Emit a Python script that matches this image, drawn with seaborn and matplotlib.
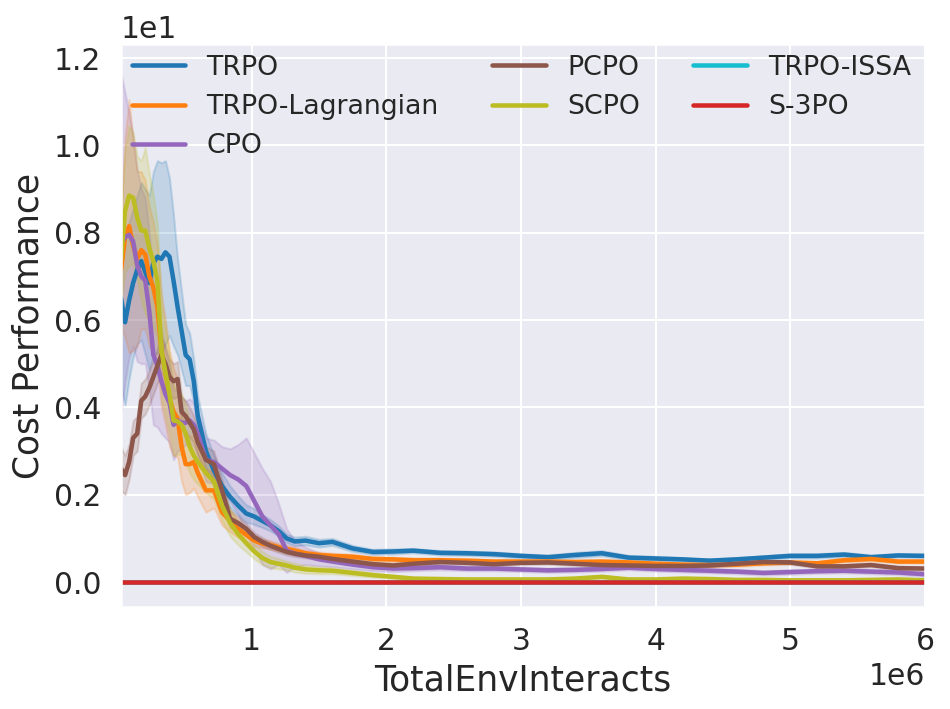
import numpy as np
import pandas as pd
import matplotlib
matplotlib.use("Agg")
import matplotlib.pyplot as plt
import seaborn as sns

# x grid in millions of env steps
steps_m = [0.03, 0.06, 0.09, 0.12, 0.15, 0.18, 0.21, 0.24, 0.27, 0.30,
           0.33, 0.36, 0.39, 0.42, 0.45, 0.48, 0.51, 0.54, 0.57, 0.60,
           0.66, 0.72, 0.78, 0.84, 0.90, 0.96, 1.02, 1.08, 1.14, 1.20,
           1.26, 1.32, 1.40, 1.50, 1.60, 1.75, 1.90, 2.05, 2.20, 2.40,
           2.60, 2.80, 3.00, 3.20, 3.40, 3.60, 3.80, 4.00, 4.20, 4.40,
           4.60, 4.80, 5.00, 5.20, 5.40, 5.60, 5.80, 6.00]

trpo_mean = [6.50, 5.95, 6.45, 6.85, 7.15, 7.35, 7.10, 6.85, 7.30, 7.45,
             7.40, 7.55, 7.45, 6.90, 6.30, 5.75, 5.20, 5.10, 4.60, 3.80,
             3.00, 2.55, 2.20, 1.95, 1.75, 1.57, 1.50, 1.40, 1.30, 1.17,
             1.00, 0.93, 0.95, 0.89, 0.92, 0.77, 0.69, 0.70, 0.72, 0.67,
             0.66, 0.64, 0.60, 0.57, 0.62, 0.66, 0.56, 0.54, 0.52, 0.49,
             0.52, 0.56, 0.60, 0.60, 0.63, 0.57, 0.61, 0.60]
trpo_sd = [2.0, 1.9, 1.8, 1.7, 1.7, 1.8, 1.9, 2.0, 2.1, 2.2,
           2.2, 2.1, 1.8, 1.5, 1.1, 0.9, 0.7, 0.6, 0.5, 0.45,
           0.4, 0.35, 0.3, 0.25, 0.22, 0.2, 0.18, 0.15, 0.13, 0.12,
           0.1, 0.1, 0.1, 0.09, 0.08, 0.07, 0.06, 0.06, 0.05, 0.05,
           0.05, 0.05, 0.05, 0.05, 0.06, 0.06, 0.05, 0.05, 0.04, 0.04,
           0.04, 0.04, 0.05, 0.05, 0.05, 0.05, 0.04, 0.04]

lag_mean = [7.15, 7.90, 8.15, 7.70, 7.40, 7.60, 7.50, 7.00, 6.75, 6.30,
            5.30, 4.80, 4.20, 3.90, 3.75, 3.10, 2.70, 2.70, 2.75, 2.50,
            2.10, 2.10, 1.60, 1.40, 1.22, 1.08, 0.95, 0.88, 0.85, 0.80,
            0.76, 0.72, 0.66, 0.62, 0.60, 0.58, 0.53, 0.52, 0.50, 0.50,
            0.49, 0.47, 0.47, 0.47, 0.46, 0.47, 0.45, 0.42, 0.40, 0.39,
            0.40, 0.43, 0.45, 0.43, 0.50, 0.53, 0.47, 0.47]
lag_sd = [1.3, 2.3, 2.9, 2.4, 2.0, 1.8, 1.7, 1.6, 1.5, 1.4,
          1.3, 1.2, 1.1, 1.0, 0.9, 0.8, 0.7, 0.65, 0.6, 0.55,
          0.5, 0.4, 0.3, 0.25, 0.2, 0.15, 0.12, 0.1, 0.1, 0.09,
          0.08, 0.08, 0.07, 0.07, 0.06, 0.06, 0.05, 0.05, 0.05, 0.05,
          0.04, 0.04, 0.04, 0.04, 0.04, 0.04, 0.04, 0.04, 0.04, 0.04,
          0.04, 0.04, 0.04, 0.04, 0.05, 0.05, 0.04, 0.04]

cpo_mean = [7.75, 7.90, 7.95, 7.80, 7.25, 7.00, 6.90, 6.20, 5.20, 4.95,
            4.60, 4.30, 4.10, 3.60, 3.70, 3.65, 3.65, 3.70, 3.60, 3.40,
            2.80, 2.75, 2.60, 2.45, 2.35, 2.20, 1.85, 1.50, 1.30, 1.10,
            0.72, 0.65, 0.60, 0.52, 0.47, 0.40, 0.34, 0.31, 0.32, 0.34,
            0.31, 0.31, 0.29, 0.27, 0.28, 0.30, 0.33, 0.30, 0.28, 0.26,
            0.24, 0.21, 0.23, 0.25, 0.26, 0.24, 0.22, 0.18]
cpo_sd = [3.9, 3.3, 2.8, 2.4, 2.2, 2.0, 1.9, 1.8, 1.6, 1.4,
          1.2, 1.0, 0.9, 0.8, 0.7, 0.6, 0.5, 0.5, 0.5, 0.5,
          0.5, 0.5, 0.5, 0.6, 0.8, 1.1, 1.1, 1.1, 1.0, 0.7,
          0.5, 0.3, 0.2, 0.15, 0.12, 0.1, 0.08, 0.07, 0.06, 0.06,
          0.05, 0.05, 0.05, 0.05, 0.05, 0.05, 0.05, 0.05, 0.05, 0.05,
          0.05, 0.05, 0.05, 0.05, 0.05, 0.05, 0.05, 0.05]

pcpo_mean = [2.60, 2.45, 2.75, 3.30, 3.40, 4.15, 4.25, 4.45, 4.70, 4.95,
             5.20, 5.00, 4.70, 4.60, 4.65, 3.90, 3.80, 3.65, 3.50, 3.20,
             2.80, 2.70, 2.10, 1.45, 1.35, 1.22, 1.03, 0.92, 0.83, 0.76,
             0.69, 0.65, 0.61, 0.58, 0.53, 0.47, 0.41, 0.38, 0.42, 0.46,
             0.44, 0.41, 0.44, 0.45, 0.42, 0.39, 0.38, 0.37, 0.37, 0.38,
             0.42, 0.46, 0.45, 0.36, 0.36, 0.39, 0.32, 0.31]
pcpo_sd = [0.5, 0.45, 0.4, 0.4, 0.4, 0.4, 0.4, 0.4, 0.4, 0.4,
           0.4, 0.4, 0.4, 0.4, 0.4, 0.35, 0.35, 0.35, 0.3, 0.3,
           0.3, 0.3, 0.25, 0.2, 0.15, 0.12, 0.1, 0.1, 0.08, 0.08,
           0.07, 0.07, 0.06, 0.06, 0.05, 0.05, 0.05, 0.05, 0.05, 0.05,
           0.04, 0.04, 0.04, 0.04, 0.04, 0.04, 0.04, 0.04, 0.04, 0.04,
           0.04, 0.04, 0.04, 0.04, 0.04, 0.04, 0.04, 0.04]

scpo_mean = [7.40, 8.50, 8.85, 8.80, 8.35, 8.05, 8.05, 7.65, 7.35, 6.90,
             5.30, 4.80, 4.30, 3.70, 3.68, 3.60, 3.40, 3.10, 2.90, 2.75,
             2.50, 2.30, 1.75, 1.35, 1.10, 0.89, 0.70, 0.55, 0.46, 0.42,
             0.38, 0.33, 0.29, 0.27, 0.26, 0.21, 0.16, 0.12, 0.08, 0.07,
             0.06, 0.06, 0.06, 0.06, 0.08, 0.12, 0.06, 0.06, 0.08, 0.07,
             0.05, 0.05, 0.04, 0.04, 0.04, 0.05, 0.06, 0.04]
scpo_sd = [1.0, 1.4, 1.6, 1.5, 1.4, 1.6, 1.9, 1.7, 1.5, 1.3,
           1.1, 1.0, 0.9, 0.8, 0.75, 0.7, 0.65, 0.6, 0.55, 0.5,
           0.45, 0.4, 0.35, 0.3, 0.25, 0.2, 0.17, 0.15, 0.13, 0.12,
           0.1, 0.1, 0.09, 0.08, 0.07, 0.06, 0.05, 0.04, 0.03, 0.03,
           0.03, 0.03, 0.03, 0.03, 0.03, 0.03, 0.03, 0.03, 0.03, 0.03,
           0.03, 0.03, 0.03, 0.03, 0.03, 0.03, 0.03, 0.03]

issa_mean = [0.0, 0.0, 0.0, 0.0, 0.0, 0.0, 0.0, 0.0, 0.0, 0.0,
             0.0, 0.0, 0.0, 0.0, 0.0, 0.0, 0.0, 0.0, 0.0, 0.0,
             0.0, 0.0, 0.0, 0.0, 0.0, 0.0, 0.0, 0.0, 0.0, 0.0,
             0.0, 0.0, 0.0, 0.0, 0.0, 0.0, 0.0, 0.0, 0.0, 0.0,
             0.0, 0.0, 0.0, 0.0, 0.0, 0.0, 0.0, 0.0, 0.0, 0.0,
             0.0, 0.0, 0.0, 0.0, 0.0, 0.0, 0.0, 0.0]
s3po_mean = [0.0, 0.0, 0.0, 0.0, 0.0, 0.0, 0.0, 0.0, 0.0, 0.0,
             0.0, 0.0, 0.0, 0.0, 0.0, 0.0, 0.0, 0.0, 0.0, 0.0,
             0.0, 0.0, 0.0, 0.0, 0.0, 0.0, 0.0, 0.0, 0.0, 0.0,
             0.0, 0.0, 0.0, 0.0, 0.0, 0.0, 0.0, 0.0, 0.0, 0.0,
             0.0, 0.0, 0.0, 0.0, 0.0, 0.0, 0.0, 0.0, 0.0, 0.0,
             0.0, 0.0, 0.0, 0.0, 0.0, 0.0, 0.0, 0.0]
zero_sd = issa_mean

algos = ['TRPO', 'TRPO-Lagrangian', 'CPO', 'PCPO', 'SCPO', 'TRPO-ISSA', 'S-3PO']
means = [trpo_mean, lag_mean, cpo_mean, pcpo_mean, scpo_mean, issa_mean, s3po_mean]
sds = [trpo_sd, lag_sd, cpo_sd, pcpo_sd, scpo_sd, zero_sd, zero_sd]
colors = ['tab:blue', 'tab:orange', 'tab:purple', 'tab:brown',
          'tab:olive', 'tab:cyan', 'tab:red']

# long table: two rows (mean-sd, mean+sd) per point, band = min..max
rows = []
for name, m, s in zip(algos, means, sds):
    for x, mv, sv in zip(steps_m, m, s):
        rows.append((x * 1e6, mv - sv, name))
        rows.append((x * 1e6, mv + sv, name))
data = pd.DataFrame(rows, columns=['TotalEnvInteracts', 'Cost Performance', 'Condition'])

sns.set_theme(style="darkgrid")
plt.rcParams['xtick.labelsize'] = 14.5
plt.rcParams['ytick.labelsize'] = 14.5
plt.rcParams['axes.labelsize'] = 16.8

fig = plt.figure(figsize=(950 / 148, 709 / 148), dpi=148)
ax = sns.lineplot(data=data, x='TotalEnvInteracts', y='Cost Performance',
                  hue='Condition', hue_order=algos,
                  palette=dict(zip(algos, colors)),
                  errorbar=('pi', 100), linewidth=2.2)
ax.legend(loc='upper left', ncol=3, borderaxespad=0., frameon=False, fontsize=13)
plt.ticklabel_format(style='sci', axis='both', scilimits=(0, 0))
ax.xaxis.get_offset_text().set_fontsize(14.5)
ax.yaxis.get_offset_text().set_fontsize(14.5)
ax.set_xlim(steps_m[0] * 1e6, steps_m[-1] * 1e6)
ax.set_ylim(-0.57, 12.32)
plt.subplots_adjust(left=0.1274, right=0.9737, top=0.9379, bottom=0.1439)
plt.savefig('out.png', dpi=148)
